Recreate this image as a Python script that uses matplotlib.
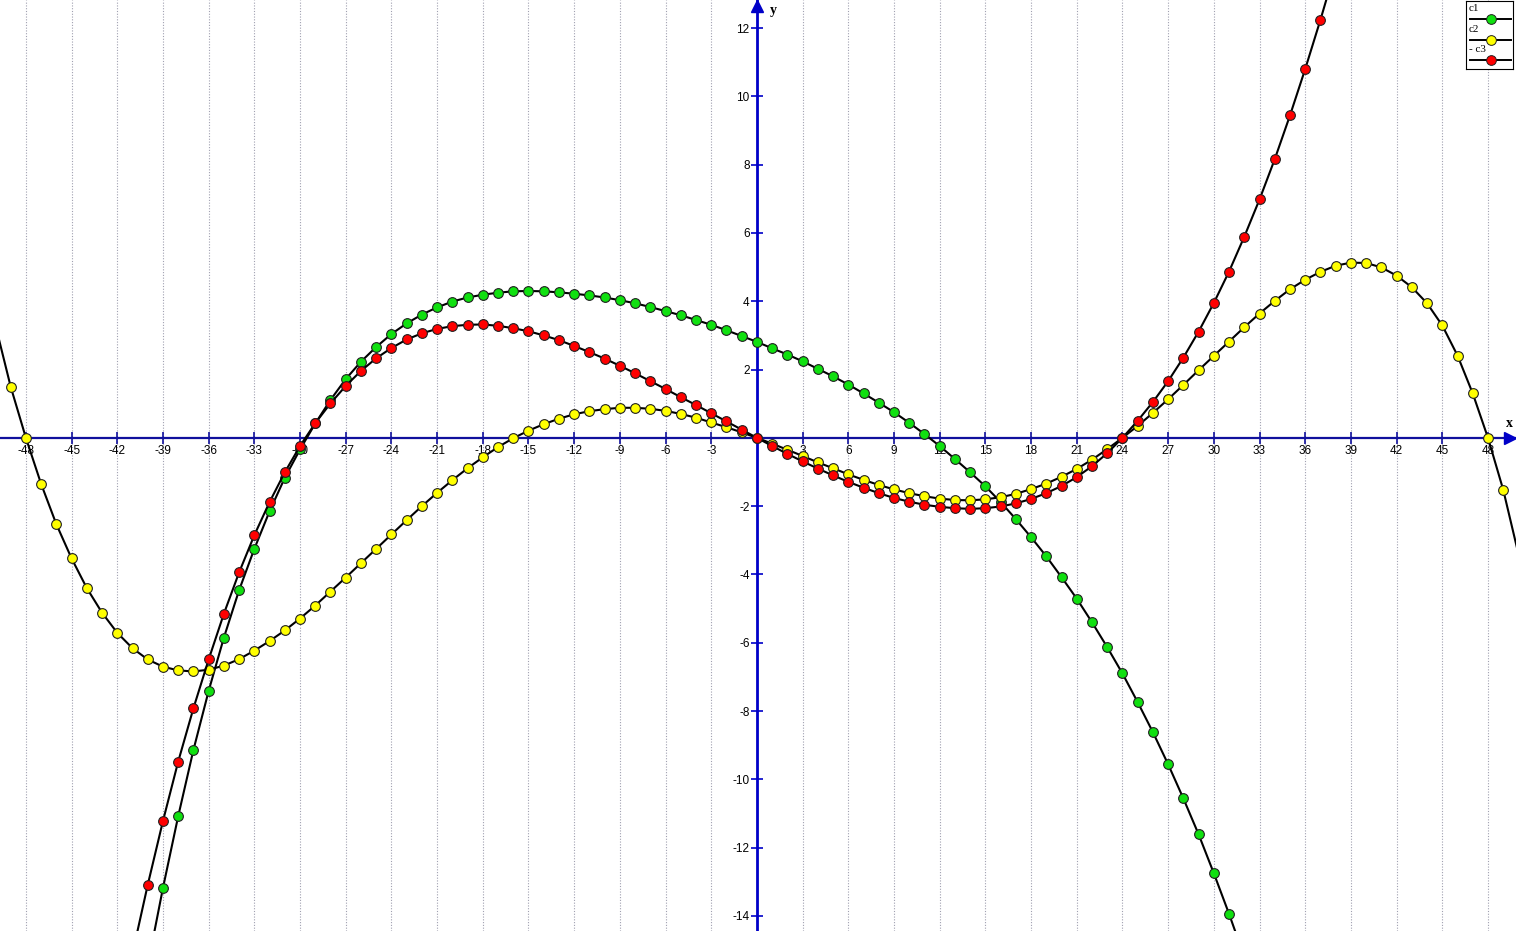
import numpy as np
import matplotlib
matplotlib.use('Agg')
import matplotlib.pyplot as plt

plt.rcParams['axes.unicode_minus'] = False

# values, one per integer x
c1_x = np.arange(-40, 33)
c1_y = [-15.45, -13.18, -11.08, -9.14, -7.41, -5.85, -4.46, -3.25, -2.15, -1.17,
        -0.34, 0.42, 1.11, 1.72, 2.23, 2.66, 3.04, 3.35, 3.61, 3.82,
        3.99, 4.11, 4.19, 4.25, 4.29, 4.30, 4.29, 4.26, 4.22, 4.17,
        4.11, 4.03, 3.94, 3.83, 3.71, 3.59, 3.45, 3.31, 3.15, 2.98,
        2.81, 2.62, 2.44, 2.24, 2.02, 1.80, 1.56, 1.30, 1.03, 0.75,
        0.44, 0.11, -0.24, -0.62, -1.01, -1.42, -1.88, -2.38, -2.91, -3.47,
        -4.08, -4.71, -5.40, -6.13, -6.90, -7.74, -8.62, -9.56, -10.56, -11.61,
        -12.75, -13.94, -15.20]

c2_x = np.arange(-50, 51)
c2_y = [3.30, 1.50, 0.00, -1.35, -2.53, -3.53, -4.40, -5.12, -5.71, -6.16,
        -6.49, -6.70, -6.81, -6.84, -6.79, -6.67, -6.48, -6.23, -5.95, -5.64,
        -5.29, -4.91, -4.50, -4.09, -3.67, -3.25, -2.83, -2.41, -2.00, -1.61,
        -1.24, -0.89, -0.57, -0.27, -0.01, 0.21, 0.40, 0.56, 0.69, 0.78,
        0.84, 0.88, 0.88, 0.85, 0.79, 0.70, 0.59, 0.45, 0.31, 0.16,
        0.00, -0.17, -0.35, -0.53, -0.72, -0.89, -1.07, -1.23, -1.38, -1.51,
        -1.62, -1.71, -1.78, -1.82, -1.83, -1.80, -1.74, -1.64, -1.50, -1.34,
        -1.14, -0.91, -0.64, -0.33, 0.00, 0.35, 0.73, 1.13, 1.55, 1.98,
        2.40, 2.82, 3.24, 3.64, 4.01, 4.35, 4.63, 4.86, 5.04, 5.13,
        5.12, 4.99, 4.75, 4.41, 3.94, 3.29, 2.41, 1.30, 0.00, -1.52,
        -3.40]

c3_x = np.arange(-41, 39)
c3_y = [-15.10, -13.09, -11.22, -9.48, -7.92, -6.49, -5.15, -3.94, -2.85, -1.88,
        -1.01, -0.24, 0.43, 1.01, 1.52, 1.96, 2.33, 2.63, 2.88, 3.06,
        3.19, 3.27, 3.31, 3.32, 3.28, 3.21, 3.12, 3.00, 2.86, 2.69,
        2.51, 2.32, 2.11, 1.89, 1.66, 1.43, 1.19, 0.96, 0.72, 0.48,
        0.24, 0.00, -0.24, -0.47, -0.69, -0.90, -1.10, -1.29, -1.46, -1.62,
        -1.76, -1.87, -1.96, -2.02, -2.06, -2.08, -2.06, -2.01, -1.92, -1.79,
        -1.62, -1.41, -1.15, -0.83, -0.45, 0.00, 0.50, 1.05, 1.66, 2.35,
        3.11, 3.95, 4.87, 5.89, 6.98, 8.16, 9.44, 10.80, 12.24, 13.76]

labels = ['c1', 'c2', '- c3']
colors = ['#10e010', '#ffff00', '#ff0000']

x_ticks = [v for v in range(-48, 49, 3) if v != 0]
y_ticks = [v for v in range(-14, 13, 2) if v != 0]

fig = plt.figure(figsize=(15.16, 9.31), dpi=100)
ax = fig.add_axes([0, 0, 1, 1])
ax.set_xlim(-49.70, 49.84)
ax.set_ylim(-14.44, 12.82)

# axes through the origin
for s in ['top', 'right']:
    ax.spines[s].set_visible(False)
ax.spines['left'].set_position('zero')
ax.spines['bottom'].set_position('zero')
ax.spines['left'].set_color('#0000c8')
ax.spines['bottom'].set_color('#10109c')
ax.spines['left'].set_linewidth(2.0)
ax.spines['bottom'].set_linewidth(1.6)

ax.set_xticks(x_ticks)
ax.set_yticks(y_ticks)
ax.set_xticklabels([str(v) for v in x_ticks])
ax.set_yticklabels([str(v) for v in y_ticks])
ax.tick_params(axis='x', direction='inout', length=8.5, width=1.2, color='#10109c', pad=1,
               labelsize=8.5)
ax.tick_params(axis='y', direction='inout', length=8.5, width=1.2, color='#0000c8', pad=1,
               labelsize=8.5)
for t in ax.get_xticklabels() + ax.get_yticklabels():
    t.set_fontfamily('Liberation Sans')

ax.grid(axis='x', linestyle=(0, (1, 1.5)), color='#a0a0b0', linewidth=0.8)
ax.set_axisbelow(True)

# arrows and axis names
ax.plot([0.9962], [0], marker='>', color='#0000c8', ms=9, transform=ax.get_yaxis_transform(),
        clip_on=False, zorder=4)
ax.plot([0], [0.9938], marker='^', color='#0000c8', ms=9, transform=ax.get_xaxis_transform(),
        clip_on=False, zorder=4)
ax.annotate('x', xy=(1, 0), xycoords=('axes fraction', 'data'), xytext=(-5, 6),
            textcoords='offset points', ha='center', va='bottom', fontsize=10,
            fontweight='bold', family='Liberation Serif')
ax.annotate('y', xy=(0, 1), xycoords=('data', 'axes fraction'), xytext=(12, -3),
            textcoords='offset points', ha='center', va='top', fontsize=10,
            fontweight='bold', family='Liberation Serif')

# curves
ax.plot(c1_x, c1_y, color='black', lw=1.5, marker='o', ms=7, mfc=colors[0],
        mec='#202020', mew=0.8, zorder=3)
ax.plot(c2_x, c2_y, color='black', lw=1.5, marker='o', ms=7, mfc=colors[1],
        mec='#202020', mew=0.8, zorder=3, markevery=slice(1, -1))
ax.plot(c3_x, c3_y, color='black', lw=1.5, marker='o', ms=7, mfc=colors[2],
        mec='#202020', mew=0.8, zorder=3)

# little legend box in the top right corner
lg = fig.add_axes([1466 / 1516, (931 - 69) / 931, 47 / 1516, 68 / 931])
lg.set_xlim(0, 47)
lg.set_ylim(68, 0)
lg.set_xticks([])
lg.set_yticks([])
for s in lg.spines.values():
    s.set_linewidth(0.8)
for i, (lab, col) in enumerate(zip(labels, colors)):
    ty = 3 + i * 20.5
    lg.text(3, ty, lab, fontsize=8, family='Liberation Serif', va='top', ha='left')
    lg.plot([4, 45], [ty + 15, ty + 15], color='black', lw=1.4)
    lg.plot([25], [ty + 15], marker='o', ms=7, mfc=col, mec='#202020', mew=0.7)

fig.savefig('out.png', dpi=100)
